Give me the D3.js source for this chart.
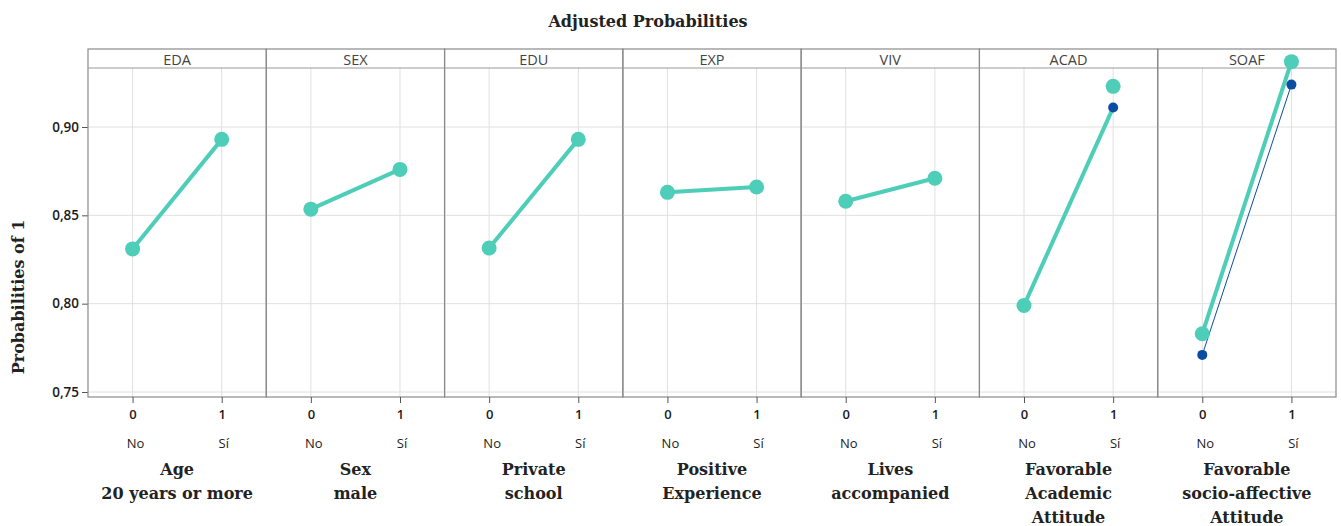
<!DOCTYPE html>
<html>
<head>
<meta charset="utf-8">
<script src="https://cdn.jsdelivr.net/npm/d3@7"></script>
<style>
  body { margin: 0; background: #fff; }
  svg text { font-family: "Open Sans", sans-serif; }
  .slab { font-family: "DejaVu Serif", serif; font-weight: bold; fill: #222; }
</style>
</head>
<body>
<div class="chart"></div>
<script>
const panels = ["EDA", "SEX", "EDU", "EXP", "VIV", "ACAD", "SOAF"];
const panelTitles = [
  ["Age", "20 years or more"],
  ["Sex", "male"],
  ["Private", "school"],
  ["Positive", "Experience"],
  ["Lives", "accompanied"],
  ["Favorable", "Academic", "Attitude"],
  ["Favorable", "socio-affective", "Attitude"]
];
const levelTicks = ["0", "1"];
const levelNames = ["No", "Sí"];
const yTicks = [0.75, 0.80, 0.85, 0.90];

// teal series (large dots)
const dotNo = [0.831, 0.8535, 0.8315, 0.863, 0.858, 0.799, 0.783];
const dotSi = [0.893, 0.876, 0.893, 0.866, 0.871, 0.923, 0.937];
// teal thick line end points
const lineNo = [0.831, 0.8535, 0.8315, 0.863, 0.858, 0.799, 0.783];
const lineSi = [0.893, 0.876, 0.893, 0.866, 0.871, 0.911, 0.937];
// blue series (small dots, thin line)
const blueNo = [null, null, null, null, null, null, 0.771];
const blueSi = [null, null, null, null, null, 0.911, 0.924];

const width = 1341, height = 526;
const margin = {top: 49, right: 5, bottom: 129, left: 88};
const stripH = 19;
const innerW = width - margin.left - margin.right;
const plotTop = margin.top + stripH;
const plotBottom = height - margin.bottom;

const svg = d3.select('.chart').append('svg')
  .attr('width', width).attr('height', height);

const teal = "#4ecdb8", blue = "#0a4ea3";

const fx = d3.scaleBand().domain(panels).range([margin.left, margin.left + innerW]).padding(0);
const x = d3.scaleLinear().domain([-0.5, 1.5]).range([0, fx.bandwidth()]);
const y = d3.scaleLinear().domain([0.75, 0.90]).range([392, 127]);

svg.append('text').attr('class', 'slab')
  .attr('x', 648).attr('y', 27).attr('text-anchor', 'middle')
  .attr('font-size', 16).text('Adjusted Probabilities');

// y axis
const yAxis = svg.append('g').attr('transform', `translate(${margin.left},0)`)
  .call(d3.axisLeft(y).tickValues(yTicks).tickSize(6).tickPadding(3)
    .tickFormat(d => d3.format('.2f')(d).replace('.', ',')));
yAxis.select('.domain').remove();
yAxis.selectAll('line').attr('stroke', '#555');
yAxis.selectAll('text').attr('font-size', 13.5).attr('fill', '#1a1a1a').attr('font-weight', 600);

svg.append('text').attr('class', 'slab')
  .attr('transform', `translate(24,297) rotate(-90)`)
  .attr('text-anchor', 'middle').attr('font-size', 16)
  .text('Probabilities of 1');

panels.forEach((p, i) => {
  const g = svg.append('g').attr('transform', `translate(${fx(p)},0)`);
  const w = fx.bandwidth();

  // grid
  g.selectAll('.hg').data(yTicks.concat([0.95])).join('line')
    .attr('x1', 0).attr('x2', w).attr('y1', d => y(d)).attr('y2', d => y(d))
    .attr('stroke', '#e0e0e0').attr('stroke-width', 1)
    .attr('display', d => y(d) < plotTop ? 'none' : null);
  g.selectAll('.vg').data([0, 1]).join('line')
    .attr('x1', d => x(d)).attr('x2', d => x(d)).attr('y1', plotTop).attr('y2', plotBottom)
    .attr('stroke', '#e0e0e0').attr('stroke-width', 1);

  // panel frame + strip
  g.append('rect').attr('x', 0).attr('y', margin.top).attr('width', w).attr('height', plotBottom - margin.top)
    .attr('fill', 'none').attr('stroke', '#8a8a8a').attr('stroke-width', 1.2);
  g.append('line').attr('x1', 0).attr('x2', w).attr('y1', plotTop).attr('y2', plotTop)
    .attr('stroke', '#999').attr('stroke-width', 1.2);
  g.append('text').attr('x', w / 2).attr('y', margin.top + 16).attr('text-anchor', 'middle')
    .attr('font-size', 14.5).attr('fill', '#444').text(p);

  // x axis
  const xa = g.append('g').attr('transform', `translate(0,${plotBottom})`)
    .call(d3.axisBottom(x).tickValues([0, 1]).tickSize(6).tickPadding(7).tickFormat((d) => levelTicks[d]));
  xa.select('.domain').remove();
  xa.selectAll('line').attr('stroke', '#555');
  xa.selectAll('text').attr('font-size', 13).attr('fill', '#1a1a1a').attr('font-weight', 600);

  g.selectAll('.lvl').data([0, 1]).join('text')
    .attr('x', d => x(d) + (d ? 2 : 3)).attr('y', 448).attr('text-anchor', 'middle')
    .attr('font-size', 13).attr('fill', '#222').text(d => levelNames[d]);

  g.selectAll('.ttl').data(panelTitles[i]).join('text').attr('class', 'slab')
    .attr('x', w / 2).attr('y', (d, k) => 475 + k * 24).attr('text-anchor', 'middle')
    .attr('font-size', 16).text(d => d);

  // blue thin line (only when both ends exist)
  if (blueNo[i] != null && blueSi[i] != null) {
    g.append('line').attr('x1', x(0)).attr('x2', x(1))
      .attr('y1', y(blueNo[i])).attr('y2', y(blueSi[i]))
      .attr('stroke', blue).attr('stroke-width', 1);
  }
  // teal thick line
  g.append('line').attr('x1', x(0)).attr('x2', x(1))
    .attr('y1', y(lineNo[i])).attr('y2', y(lineSi[i]))
    .attr('stroke', teal).attr('stroke-width', 4);

  const bluePts = [[0, blueNo[i]], [1, blueSi[i]]].filter(d => d[1] != null);
  g.selectAll('.bd').data(bluePts).join('circle')
    .attr('cx', d => x(d[0])).attr('cy', d => y(d[1])).attr('r', 5).attr('fill', blue);

  g.selectAll('.td').data([[0, dotNo[i]], [1, dotSi[i]]]).join('circle')
    .attr('cx', d => x(d[0])).attr('cy', d => y(d[1])).attr('r', 7.5).attr('fill', teal);
});
</script>
</body>
</html>
